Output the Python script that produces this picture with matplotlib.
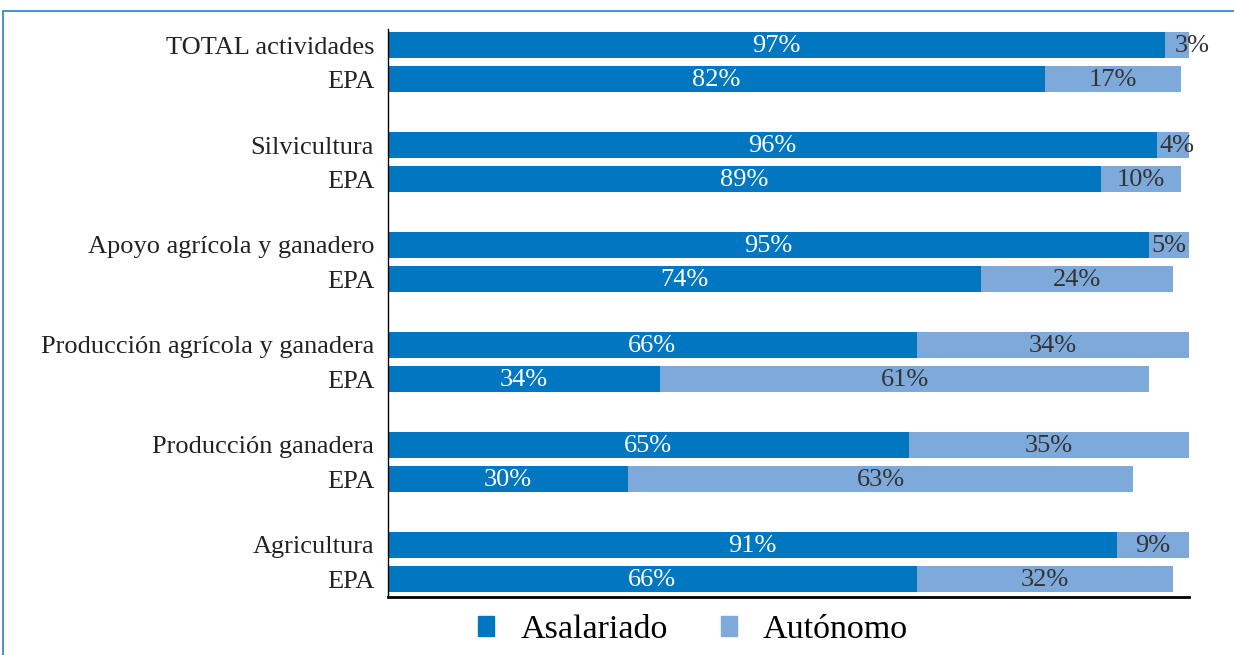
import matplotlib.pyplot as plt
from matplotlib.patches import Rectangle, Patch
import numpy as np

categorias = ["TOTAL actividades", "Silvicultura", "Apoyo agrícola y ganadero",
              "Producción agrícola y ganadera", "Producción ganadera", "Agricultura"]
asalariado = [97, 96, 95, 66, 65, 91]
autonomo = [3, 4, 5, 34, 35, 9]
epa_asalariado = [82, 89, 74, 34, 30, 66]
epa_autonomo = [17, 10, 24, 61, 63, 32]

azul = "#0077C0"
celeste = "#7DAADB"
fuente = "Liberation Serif"

fig = plt.figure(figsize=(12.34, 6.55), dpi=100)
ax = fig.add_axes([388 / 1234, 1 - 597 / 655, 801 / 1234, 568 / 655])

# posiciones: cada grupo ocupa 3 unidades, barra principal y barra EPA
pos_main = np.arange(len(categorias)) * 3.0
pos_epa = pos_main + 1.02
alto = 0.78

ys, a_vals, b_vals, etiquetas = [], [], [], []
for i, cat in enumerate(categorias):
    ys += [pos_main[i], pos_epa[i]]
    a_vals += [asalariado[i], epa_asalariado[i]]
    b_vals += [autonomo[i], epa_autonomo[i]]
    etiquetas += [cat, "EPA"]

ax.barh(ys, a_vals, height=alto, color=azul, label="Asalariado")
ax.barh(ys, b_vals, left=a_vals, height=alto, color=celeste, label="Autónomo")

for y, a, b in zip(ys, a_vals, b_vals):
    ax.text(a / 2, y + 0.04, f"{a}%", ha="center", va="center", color="white",
            fontsize=19, family=fuente)
    xb = a + b / 2
    if b < 4:
        xb = a + b + 0.4
    elif b < 5:
        xb = a + b / 2 + 0.5
    ax.text(xb, y + 0.04, f"{b}%", ha="center", va="center", color="#333333",
            fontsize=19, family=fuente)

ax.set_yticks(ys)
ax.set_yticklabels(etiquetas, fontsize=19, family=fuente, color="#222222")
ax.tick_params(axis="y", length=0, pad=10)
ax.set_xticks([])
ax.set_xlim(0, 100)
ax.set_ylim(16.56, -0.48)
for s in ["top", "right"]:
    ax.spines[s].set_visible(False)
ax.spines["left"].set_linewidth(1.0)
ax.spines["bottom"].set_linewidth(2.0)

handles = [Patch(color=azul), Patch(color=celeste)]
fig.legend(handles, ["Asalariado", "Autónomo"], loc="center",
           bbox_to_anchor=(693 / 1234, 1 - 630 / 655), ncol=2, frameon=False,
           prop={"family": fuente, "size": 24.5}, handlelength=0.47, handleheight=0.53,
           handletextpad=0.76, columnspacing=1.56)

# marco azul de la figura
fig.patches.append(Rectangle((3 / 1234, -0.1), 1.2, (644 / 655) + 0.1,
                             transform=fig.transFigure, fill=False,
                             edgecolor="#2A7FC0", linewidth=1.2))

fig.savefig("out.png", dpi=100)
